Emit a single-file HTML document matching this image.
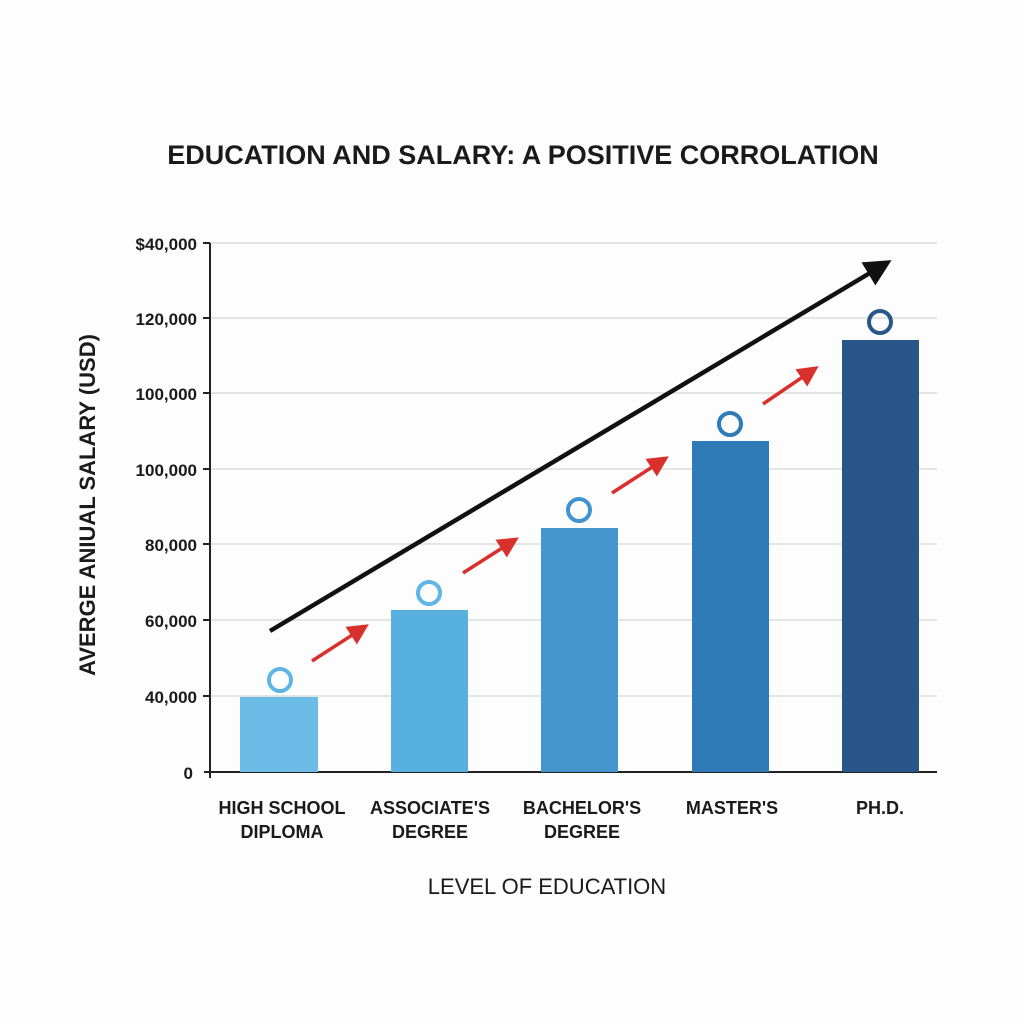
<!DOCTYPE html>
<html><head><meta charset="utf-8"><style>
html,body{margin:0;padding:0;background:#fdfdfd;}
svg{display:block;}
text{font-family:"Liberation Sans",sans-serif;fill:#1a1a1a;}
</style></head><body>
<svg width="1024" height="1024" viewBox="0 0 1024 1024" xmlns="http://www.w3.org/2000/svg">
<rect width="1024" height="1024" fill="#fdfdfd"/>
<text x="523" y="164" text-anchor="middle" font-size="27" font-weight="bold">EDUCATION AND SALARY: A POSITIVE CORROLATION</text>
<g stroke="#dcdcdc" stroke-width="1.5">
<line x1="210" y1="243" x2="937" y2="243"/>
<line x1="210" y1="318" x2="937" y2="318"/>
<line x1="210" y1="393" x2="937" y2="393"/>
<line x1="210" y1="469" x2="937" y2="469"/>
<line x1="210" y1="544" x2="937" y2="544"/>
<line x1="210" y1="620" x2="937" y2="620"/>
<line x1="210" y1="696" x2="937" y2="696"/>
</g>
<g stroke="#222" stroke-width="2">
<line x1="210" y1="243" x2="210" y2="778"/>
<line x1="204" y1="772" x2="937" y2="772"/>
<line x1="203" y1="243" x2="210" y2="243"/><line x1="203" y1="318" x2="210" y2="318"/>
<line x1="203" y1="393" x2="210" y2="393"/><line x1="203" y1="469" x2="210" y2="469"/>
<line x1="203" y1="544" x2="210" y2="544"/><line x1="203" y1="620" x2="210" y2="620"/>
<line x1="203" y1="696" x2="210" y2="696"/>
</g>
<g font-size="17" text-anchor="end" font-weight="600">
<text x="197" y="250">$40,000</text>
<text x="197" y="325">120,000</text>
<text x="197" y="400">100,000</text>
<text x="197" y="476">100,000</text>
<text x="197" y="551">80,000</text>
<text x="197" y="627">60,000</text>
<text x="197" y="703">40,000</text>
<text x="193" y="779">0</text>
</g>
<text transform="translate(95,505) rotate(-90)" text-anchor="middle" font-size="22" font-weight="bold">AVERGE ANIUAL SALARY (USD)</text>
<rect x="240" y="697" width="78" height="75" fill="#6bbde8"/>
<rect x="391" y="610" width="77" height="162" fill="#58b0e0"/>
<rect x="541" y="528" width="77" height="244" fill="#4596cf"/>
<rect x="692" y="441" width="77" height="331" fill="#2f7bb8"/>
<rect x="842" y="340" width="77" height="432" fill="#285689"/>
<g fill="none" stroke-width="4">
<circle cx="280" cy="680" r="11" stroke="#5fb5e5"/>
<circle cx="429" cy="593" r="11" stroke="#5fb5e5"/>
<circle cx="579" cy="510" r="11" stroke="#3f93cf"/>
<circle cx="730" cy="424" r="11" stroke="#2f7bb8"/>
<circle cx="880" cy="322" r="11" stroke="#285689"/>
</g>
<defs>
<marker id="rh" markerWidth="6" markerHeight="6" refX="3" refY="3" orient="auto" markerUnits="strokeWidth"><path d="M0,0 L6,3 L0,6 z" fill="#d9302c"/></marker>
<marker id="bh" markerWidth="6" markerHeight="6" refX="3" refY="3" orient="auto" markerUnits="strokeWidth"><path d="M0,0 L6,3 L0,6 z" fill="#111"/></marker>
</defs>
<g stroke="#d9302c" stroke-width="3.5" marker-end="url(#rh)">
<line x1="312" y1="661" x2="360" y2="630"/>
<line x1="463" y1="573" x2="510" y2="543"/>
<line x1="612" y1="493" x2="660" y2="462"/>
<line x1="763" y1="404" x2="810" y2="372"/>
</g>
<line x1="270" y1="631" x2="880" y2="267" stroke="#111" stroke-width="4.5" marker-end="url(#bh)"/>
<g font-size="18" text-anchor="middle" font-weight="bold">
<text x="282" y="814">HIGH SCHOOL</text><text x="282" y="838">DIPLOMA</text>
<text x="430" y="814">ASSOCIATE'S</text><text x="430" y="838">DEGREE</text>
<text x="582" y="814">BACHELOR'S</text><text x="582" y="838">DEGREE</text>
<text x="732" y="814">MASTER'S</text>
<text x="880" y="814">PH.D.</text>
</g>
<text x="547" y="894" text-anchor="middle" font-size="22">LEVEL OF EDUCATION</text>
</svg>
</body></html>
